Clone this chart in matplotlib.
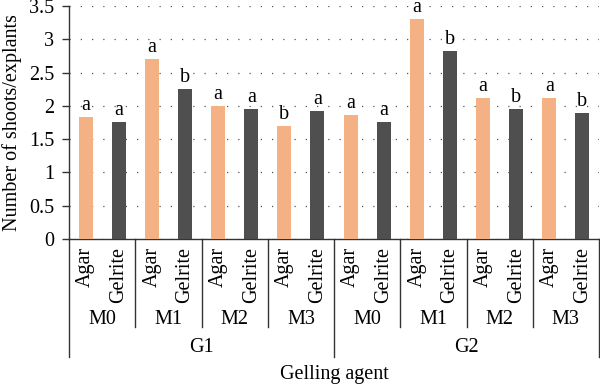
import matplotlib
matplotlib.use("Agg")
import matplotlib.pyplot as plt

plt.rcParams['font.family'] = ['Liberation Serif', 'DejaVu Serif']

agent_groups = ["G1", "G2"]
media = ["M0", "M1", "M2", "M3"]
gelling = ["Agar", "Gelrite"]
agar_vals = [1.83, 2.70, 2.00, 1.70, 1.86, 3.30, 2.12, 2.12]
gelrite_vals = [1.76, 2.26, 1.96, 1.93, 1.76, 2.82, 1.96, 1.90]
agar_letters = ["a", "a", "a", "b", "a", "a", "a", "a"]
gelrite_letters = ["a", "b", "a", "a", "a", "b", "b", "b"]
yticks = [0, 0.5, 1, 1.5, 2, 2.5, 3, 3.5]
ytick_labels = ["0", "0.5", "1", "1.5", "2", "2.5", "3", "3.5"]

agar_color = "#F4B183"
gel_color = "#4F4F4F"
line_color = "#333333"
FS = 14.5

W, H = 600, 387
fig = plt.figure(figsize=(W / 100, H / 100), dpi=100)
ax_left, ax_right, ax_top, ax_bottom = 69, 599, 6, 239
ax = fig.add_axes([ax_left / W, (H - ax_bottom) / H,
                   (ax_right - ax_left) / W, (ax_bottom - ax_top) / H])

n = len(agar_vals)
xa = [2 * i + 0.5 for i in range(n)]
xg = [2 * i + 1.5 for i in range(n)]
ax.bar(xa, agar_vals, width=0.42, color=agar_color, zorder=3)
ax.bar(xg, gelrite_vals, width=0.42, color=gel_color, zorder=3)

for x, v, t in zip(xa, agar_vals, agar_letters):
    ax.annotate(t, (x, v), xytext=(0, 5), textcoords="offset points",
                ha="center", va="baseline", fontsize=FS)
for x, v, t in zip(xg, gelrite_vals, gelrite_letters):
    ax.annotate(t, (x, v), xytext=(0, 5), textcoords="offset points",
                ha="center", va="baseline", fontsize=FS)

ax.set_xlim(0, 2 * n)
ax.set_ylim(0, 3.5)
ax.set_yticks(yticks)
ax.set_yticklabels(ytick_labels, fontsize=FS)
ax.yaxis.grid(True, linestyle=(0, (1, 8)), color="#555555", linewidth=0.9)
ax.set_axisbelow(True)

ax.set_xticks(xa + xg)
ax.set_xticklabels([gelling[0]] * n + [gelling[1]] * n,
                   rotation=90, fontsize=FS)
ax.tick_params(axis="x", length=0, pad=5.8)
ax.tick_params(axis="y", length=5, width=1, color=line_color, pad=5.5)

for s in ["top", "right"]:
    ax.spines[s].set_visible(False)
for s in ["left", "bottom"]:
    ax.spines[s].set_color(line_color)
    ax.spines[s].set_linewidth(1.0)

tr = ax.get_xaxis_transform()
ah = ax_bottom - ax_top


def fy(p):
    return (ax_bottom - p) / ah


for k in range(len(agent_groups) * len(media) + 1):
    x = 2 * k
    bottom = 357 if k % len(media) == 0 else 327
    ax.plot([x, x], [0, fy(bottom)], transform=tr, color=line_color,
            lw=1.0, clip_on=False)
for k in range(len(agent_groups) * len(media)):
    ax.text(2 * k + 1, fy(319), media[k % len(media)], transform=tr,
            ha="center", va="center", fontsize=FS)
for g, name in enumerate(agent_groups):
    cx = g * 2 * len(media) + len(media)
    ax.text(cx, fy(347), name, transform=tr, ha="center", va="center",
            fontsize=FS)

fig.text((ax_left + ax_right) / 2 / W, 1 - 375 / H, "Gelling agent",
         ha="center", va="center", fontsize=FS)
fig.text(12 / W, 1 - ((ax_top + ax_bottom) / 2) / H,
         "Number of shoots/explants", rotation=90, ha="center", va="center",
         fontsize=FS)

fig.savefig("out.png", dpi=100)
